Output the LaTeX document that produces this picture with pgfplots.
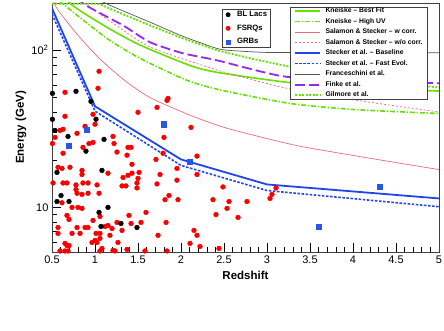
\documentclass[border=0pt]{standalone}
\usepackage{pgfplots}
\pgfplotsset{compat=1.18}
\usepackage{fontspec}
\setmainfont{Liberation Sans}
\definecolor{cgreen}{RGB}{105,225,0}
\definecolor{cpink}{RGB}{238,105,120}
\definecolor{cblue}{RGB}{30,70,240}
\definecolor{cpurple}{RGB}{150,40,245}
\definecolor{cgray}{RGB}{85,85,85}
\definecolor{cred}{RGB}{250,0,0}
\definecolor{cbluem}{RGB}{40,85,235}
\begin{document}
\begin{tikzpicture}
\useasboundingbox (0,0) rectangle (444pt,330pt);
\begin{axis}[at={(52pt,78pt)}, anchor=south west, scale only axis,
  width=387pt, height=249pt, xmin=0.5, xmax=5, ymode=log, ymin=5.2, ymax=200,
  axis line style={black!75, line width=0.6pt},
  tick align=inside, xtick pos=bottom, ytick pos=left,
  xtick={0.5,1,1.5,2,2.5,3,3.5,4,4.5,5},
  xticklabels={0.5,1,1.5,2,2.5,3,3.5,4,4.5,5},
  minor xtick={0.6,0.7,0.8,0.9,1.1,1.2,1.3,1.4,1.6,1.7,1.8,1.9,2.1,2.2,2.3,2.4,2.6,2.7,2.8,2.9,3.1,3.2,3.3,3.4,3.6,3.7,3.8,3.9,4.1,4.2,4.3,4.4,4.6,4.7,4.8,4.9},
  ytick={10,100}, yticklabels={10,10\textsuperscript{2}},
  minor ytick={6,7,8,9,20,30,40,50,60,70,80,90},
  major tick length=9pt, minor tick length=5pt,
  tick style={black, line width=0.6pt},
  ticklabel style={font=\fontsize{11}{13}\selectfont},
  xlabel={\bfseries Redshift}, ylabel={\bfseries Energy (GeV)},
  label style={font=\fontsize{11.5}{14}\selectfont},
  xlabel style={at={(axis description cs:0.5,0)}, anchor=center, yshift=-23pt},
  ylabel style={at={(axis description cs:-0.080,0.5)}, anchor=center},
  legend style={at={(0.615,0.984)}, anchor=north west, draw=black!75, fill=white,
    font=\bfseries\fontsize{6.8}{7}\selectfont, cells={anchor=west},
    inner xsep=4pt, inner ysep=0.5pt, row sep=3.5pt, column sep=4pt,
    nodes={inner sep=0.5pt, text height=4.5pt, text depth=1.5pt}},
  legend image code/.code={\draw[#1] (0pt,0pt) -- (25pt,0pt);},
]
\addplot[cgreen, line width=1.6pt, smooth, tension=0.4] coordinates {
(0.5,290) (0.709,199) (1.14,140) (1.523,108) (2.105,80) (2.419,72.4) (3.23,62.6) (4.0,58) (5.0,55)};
\addlegendentry{Kneiske – Best Fit}
\addplot[cgreen, line width=1.6pt, dash pattern=on 5pt off 1.8pt on 1.3pt off 1.8pt, smooth, tension=0.4] coordinates {
(0.5,223) (0.674,188) (1.14,119) (1.523,88.9) (2.07,64.4) (2.477,55.6) (3.267,45.9) (4.0,42) (5.0,39.6)};
\addlegendentry{Kneiske – High UV}
\addplot[cpink, line width=0.7pt, smooth, tension=0.4] coordinates {
(0.5,215) (0.57,180) (0.8,125) (1.058,88) (1.35,64) (1.64,50) (2.105,38.6) (2.477,32.6) (2.8,29.2) (3.384,24.5) (4.233,20.4) (5.0,17.4)};
\addlegendentry{Salamon \& Stecker – w corr.}
\addplot[cpink, line width=0.7pt, dash pattern=on 2pt off 2pt, smooth, tension=0.4] coordinates {
(0.7,260) (0.884,199) (1.2,150) (1.64,105) (2.419,75) (3.186,58) (4.047,48) (5.0,40.5)};
\addlegendentry{Salamon \& Stecker – w/o corr.}
\addplot[cblue, line width=1.8pt] coordinates {
(0.5,185) (1.0,44) (2.0,20.2) (3.0,14.0) (5.0,11.4)};
\addlegendentry{Stecker et al. – Baseline}
\addplot[cblue, line width=1.6pt, dash pattern=on 2.5pt off 1.6pt] coordinates {
(0.5,170) (1.0,41) (2.0,18.5) (3.0,12.8) (5.0,10.1)};
\addlegendentry{Stecker et al. – Fast Evol.}
\addplot[cgray, line width=0.7pt, smooth, tension=0.4] coordinates {
(0.9,240) (1.116,200) (1.64,151) (2.0,124) (2.22,112) (2.477,101) (2.92,97.2) (3.2,96.8) (5.0,96.5)};
\addlegendentry{Franceschini et al.}
\addplot[cpurple, line width=1.8pt, dash pattern=on 10pt off 4pt, smooth, tension=0.4] coordinates {
(0.7,260) (0.86,199) (1.326,144) (1.64,112.5) (2.023,95.7) (2.419,86.3) (3.186,68.3) (4.0,64) (5.0,61.7)};
\addlegendentry{Finke et al.}
\addplot[cgreen, line width=1.8pt, dash pattern=on 2pt off 1.5pt] coordinates {
(0.5,198) (1.03,198) (1.058,196) (1.3,172) (1.64,144) (2.023,119) (2.419,100) (2.8,89) (3.186,80.2) (3.6,72.5) (4.0,66) (4.5,61.5) (5.0,58)};
\addlegendentry{Gilmore et al.}
\end{axis}
\begin{axis}[at={(52pt,78pt)}, anchor=south west, scale only axis,
  width=387pt, height=249pt, xmin=0.5, xmax=5, ymode=log, ymin=5.2, ymax=200,
  hide axis,
  legend style={at={(0.439,0.976)}, anchor=north west, draw=black!75, fill=white,
    font=\bfseries\fontsize{7.7}{8}\selectfont, cells={anchor=west},
    inner xsep=2pt, inner ysep=1pt, row sep=4.5pt, column sep=2pt,
    nodes={inner sep=1pt, text height=5.5pt, text depth=1.6pt}},
  legend image code/.code={\path[draw=none] (0pt,-1pt) rectangle (10pt,1pt); \draw[#1] plot coordinates {(4pt,0pt)};},
]
\addlegendimage{only marks, mark=*, mark size=2.2pt, black}
\addlegendentry{BL Lacs}
\addlegendimage{only marks, mark=*, mark size=2.2pt, cred}
\addlegendentry{FSRQs}
\addlegendimage{only marks, mark=square*, mark size=2.2pt, cbluem}
\addlegendentry{GRBs}
\addplot[only marks, mark=*, mark size=2.4pt, cred, forget plot] table {
x y
1.047 73.5
0.651 54.0
1.035 57.3
1.837 48.0
1.849 49.4
1.721 43.3
1.500 40.3
0.651 38.0
0.977 39.1
2.116 32.3
0.593 30.9
0.628 31.4
1.000 33.8
0.884 32.8
0.791 29.6
0.535 27.9
0.505 25.5
0.628 22.1
0.930 25.5
0.977 25.9
0.860 24.1
1.209 28.3
1.221 25.5
1.256 22.5
1.384 24.1
1.419 24.1
1.372 21.5
1.802 27.9
1.791 22.1
1.709 20.2
2.186 21.2
1.953 17.7
1.953 14.9
1.814 11.2
1.860 11.9
1.721 14.1
1.756 16.2
2.186 16.2
0.570 18.0
0.616 17.7
0.709 18.0
0.849 17.2
0.849 16.2
1.151 16.5
0.512 14.3
0.628 14.3
0.674 14.3
0.779 13.9
0.779 13.0
0.860 14.3
0.919 14.3
0.791 12.3
0.849 12.1
0.919 12.3
1.023 13.9
1.047 12.3
1.326 15.5
1.384 16.0
1.430 16.5
1.512 16.7
1.500 15.3
1.488 14.3
1.488 13.3
1.430 18.8
1.314 13.7
1.360 13.7
0.616 10.7
0.733 10.0
0.802 10.0
0.849 9.86
0.674 8.89
0.977 8.26
1.058 8.76
0.570 7.45
0.570 6.83
0.698 8.38
0.791 7.45
0.733 6.83
0.826 6.83
0.884 7.45
0.919 7.45
1.116 7.56
1.151 7.67
1.198 7.34
1.256 8.02
1.395 8.89
1.419 7.90
1.314 7.14
1.535 8.02
1.593 9.29
1.733 6.64
1.826 8.02
1.965 11.2
2.105 5.90
1.012 6.83
1.058 6.83
1.000 6.16
1.023 5.98
0.965 5.98
1.058 6.35
1.174 6.64
1.267 5.98
0.651 5.90
0.674 5.72
0.698 5.72
0.593 5.28
0.651 5.28
0.686 5.28
1.058 5.28
1.209 5.32
1.233 5.28
1.372 5.40
1.581 5.28
1.837 5.28
2.151 7.14
2.186 6.64
2.221 5.64
2.442 5.48
2.372 11.2
2.407 9.0
2.488 13.5
2.558 10.9
2.767 10.9
2.535 9.86
2.663 8.63
3.105 13.3
3.058 12.1
3.035 11.4
1.081 5.48
};
\addplot[only marks, mark=*, mark size=2.4pt, black, forget plot] table {
x y
0.505 53.2
0.779 54.8
0.953 47.3
0.505 36.4
1.012 36.4
0.535 30.9
0.686 28.3
1.105 27.1
0.895 22.8
0.558 16.7
1.081 17.2
0.605 11.9
0.558 10.9
0.698 10.9
1.151 10.0
1.047 9.29
1.070 7.56
1.302 7.90
1.488 7.45
};
\addplot[only marks, mark=square*, mark size=2.6pt, cbluem, forget plot] table {
x y
0.698 24.8
0.907 31.4
1.802 33.8
2.105 19.6
4.314 13.5
3.605 7.56
};
\end{axis}
\end{tikzpicture}
\end{document}
